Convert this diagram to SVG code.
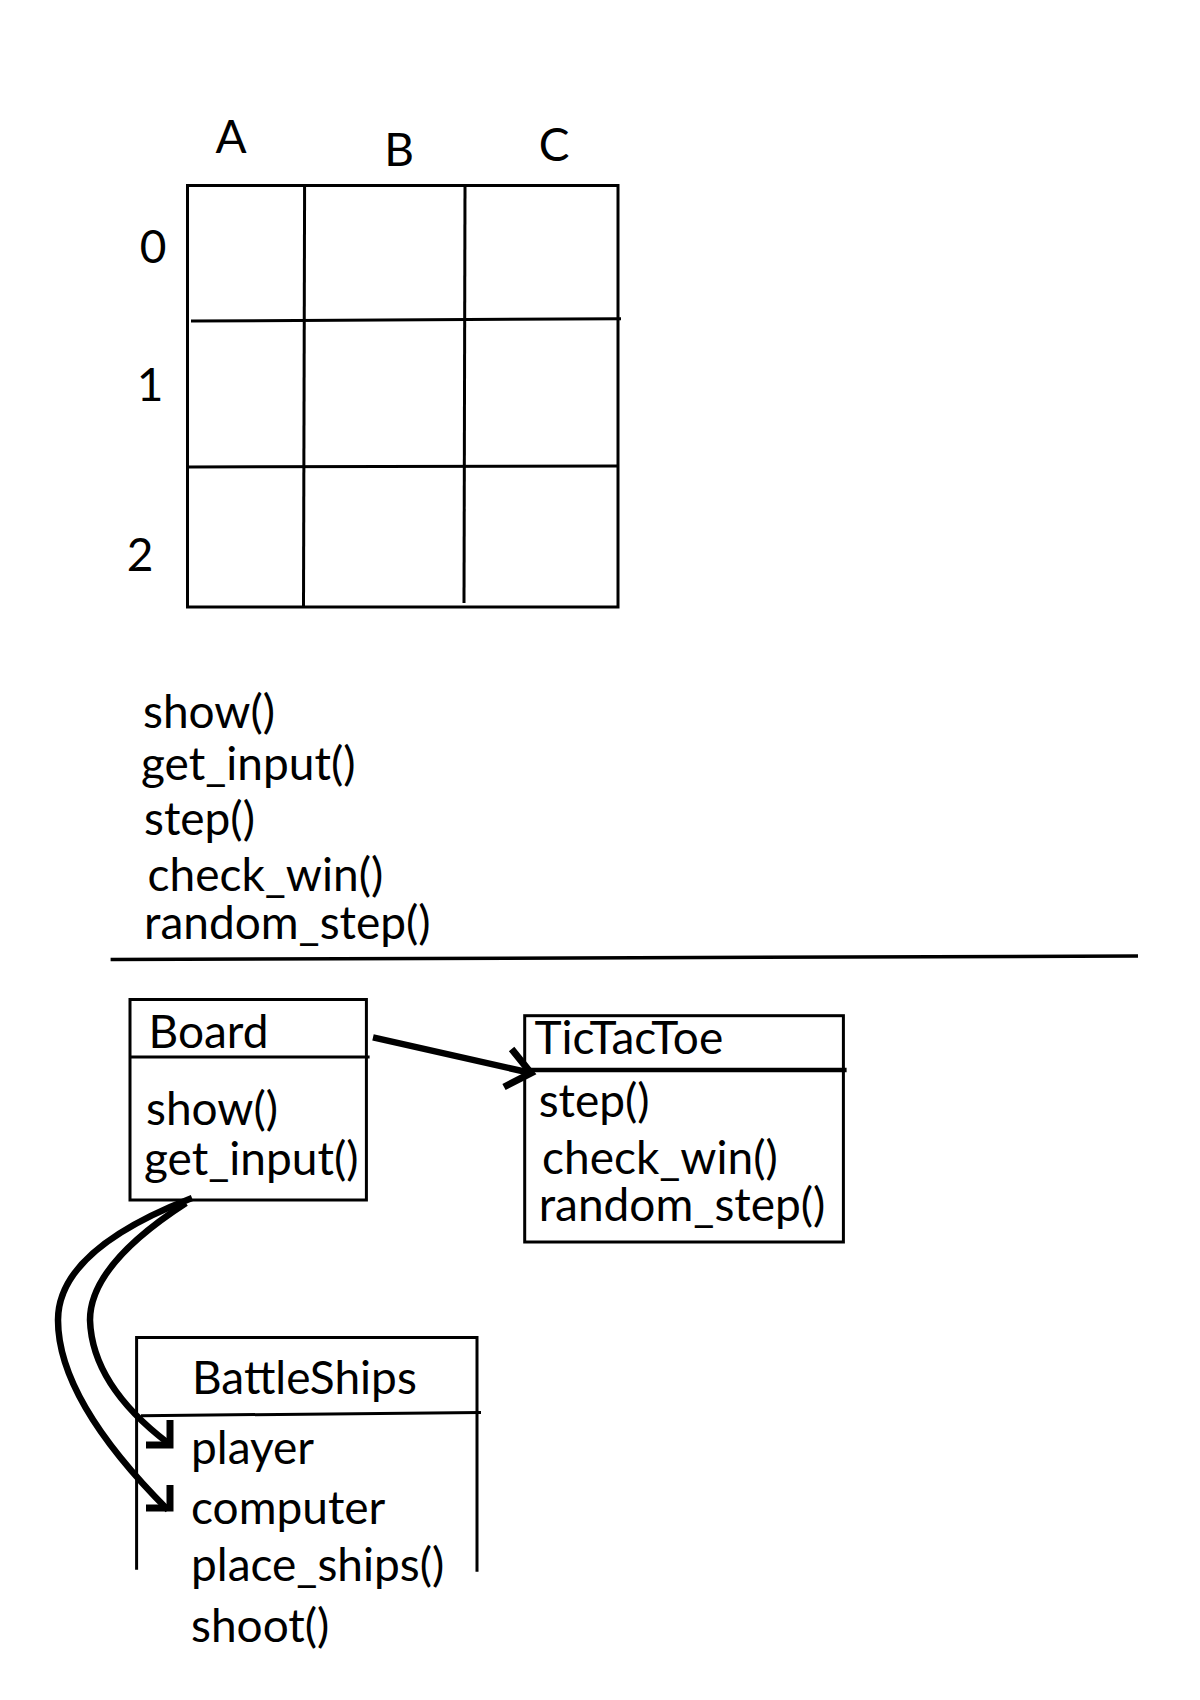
<svg xmlns="http://www.w3.org/2000/svg" width="1200" height="1700" viewBox="0 0 1200 1700">
<style>
text{font-family:Lato,"Open Sans","Liberation Sans",sans-serif;font-size:46px;fill:#000}
.ln{stroke:#000;stroke-width:3;fill:none}
.box{stroke:#000;stroke-width:3;fill:#fff}
.arr{stroke:#000;stroke-width:6.5;fill:none}
.head{stroke:#000;stroke-width:7;fill:none;stroke-linecap:butt}
</style>
<rect width="1200" height="1700" fill="#fff"/>
<g id="grid">
<text x="231" y="153" text-anchor="middle">A</text>
<text x="399" y="166" text-anchor="middle">B</text>
<text x="554" y="161" text-anchor="middle">C</text>
<text x="153" y="263" text-anchor="middle">0</text>
<text x="150" y="401" text-anchor="middle">1</text>
<text x="140" y="571" text-anchor="middle">2</text>
<rect x="187.5" y="185.5" width="430.5" height="421.5" class="ln"/>
<line x1="304.6" y1="185.5" x2="303.5" y2="607" class="ln"/>
<line x1="465" y1="185.5" x2="464" y2="603" class="ln"/>
<line x1="191" y1="321" x2="621" y2="318.7" class="ln"/>
<line x1="187.5" y1="467" x2="618" y2="466" class="ln"/>
</g>
<g id="method-list">
<text x="143" y="728">show()</text>
<text x="141" y="780">get_input()</text>
<text x="144" y="835">step()</text>
<text x="147.5" y="891">check_win()</text>
<text x="144" y="939">random_step()</text>
</g>
<line id="separator" x1="110.6" y1="959.5" x2="1138" y2="956" stroke="#000" stroke-width="3.5"/>
<g id="board">
<rect x="130" y="999.5" width="236.4" height="200.5" class="box"/>
<line x1="130" y1="1057" x2="369.6" y2="1057" class="ln"/>
<text x="148.5" y="1048">Board</text>
<text x="146" y="1125">show()</text>
<text x="144" y="1175">get_input()</text>
</g>
<g id="tictactoe">
<rect x="524.7" y="1015.7" width="318.7" height="226.3" class="box"/>
<line x1="524.7" y1="1070" x2="846.6" y2="1070" stroke="#000" stroke-width="4.5"/>
<text x="534.4" y="1053.6">TicTacToe</text>
<text x="538.7" y="1116.5">step()</text>
<text x="542" y="1174">check_win()</text>
<text x="538.7" y="1220.6">random_step()</text>
</g>
<g id="battleships">
<polyline points="136.6,1569.7 136.6,1337.6 477,1337.6 477,1571.8" class="ln"/>
<line x1="141" y1="1415.7" x2="481" y2="1412.5" class="ln"/>
<text x="192" y="1394">BattleShips</text>
<text x="191" y="1464">player</text>
<text x="191" y="1524">computer</text>
<text x="191" y="1581">place_ships()</text>
<text x="191" y="1642">shoot()</text>
</g>
<g id="connectors">
<line x1="373" y1="1037.4" x2="531" y2="1073" class="arr" stroke-width="8"/>
<polyline points="511.6,1049 531,1073 504,1087" class="head" stroke-width="8"/>
<path d="M186,1203 Q90,1265 90,1320 Q92,1385 168,1443" class="arr"/>
<polyline points="170,1420 170,1445 146,1445" class="head"/>
<path d="M192,1198 Q58,1250 58,1320 Q58,1400 168,1510" class="arr"/>
<polyline points="170,1485 170,1508 146,1508" class="head"/>
</g>
</svg>
